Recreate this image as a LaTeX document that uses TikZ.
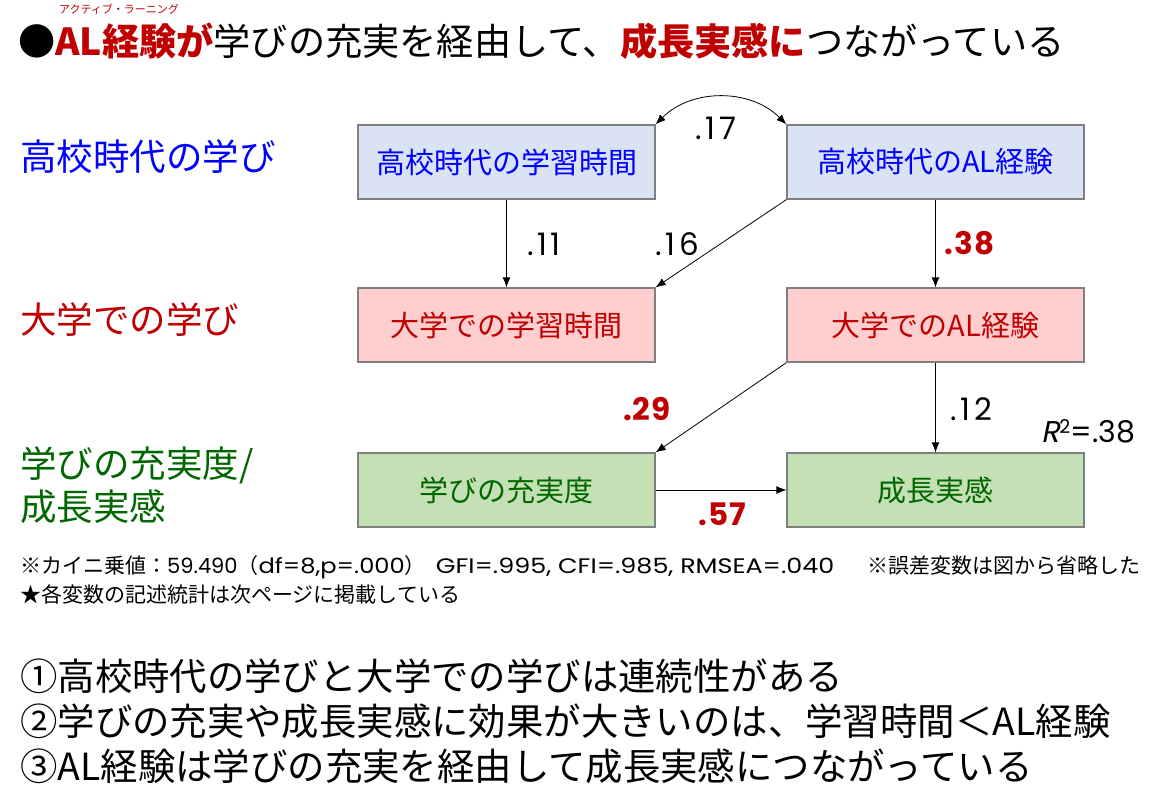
\documentclass[tikz,border=0pt]{standalone}
\usepackage{fontspec}
\usepackage{graphicx}
\usetikzlibrary{arrows.meta}
\newfontfamily\jp{Noto Sans CJK JP}
\newfontfamily\num[LetterSpace=12]{Poppins}
\newfontfamily\numb[LetterSpace=4]{Poppins}
\newfontfamily\lat{Poppins}
\newfontfamily\numsl[FakeSlant=0.2]{Poppins}
\definecolor{myred}{HTML}{C00000}
\definecolor{myblue}{HTML}{0000FF}
\definecolor{mygreen}{HTML}{006600}
\definecolor{fillblue}{HTML}{DAE3F3}
\definecolor{fillpink}{HTML}{FFCFCF}
\definecolor{fillgreen}{HTML}{C5E0B4}
\definecolor{boxline}{HTML}{7F7F7F}
\begin{document}
\begin{tikzpicture}[x=1pt,y=1pt,
  box/.style={draw=boxline, line width=1.3pt, minimum width=297pt, minimum height=74pt, inner sep=0pt,
    font=\jp\fontsize{29}{34}\selectfont},
  hsbox/.style={box, fill=fillblue, text=myblue},
  unibox/.style={box, fill=fillpink, text=myred},
  outbox/.style={box, fill=fillgreen, text=mygreen},
  path/.style={line width=0.8pt, -{Latex[length=10pt,width=8pt]}},
  coef/.style={font=\num\fontsize{31}{34}\selectfont, text=black, inner sep=0pt},
  sigcoef/.style={font=\numb\bfseries\fontsize{31}{34}\selectfont, text=myred, inner sep=0pt},
  rowlabel/.style={font=\jp\fontsize{36.5}{43}\selectfont, anchor=west, inner sep=0pt, align=left},
  bigline/.style={font=\jp\fontsize{37.4}{40}\selectfont, anchor=west, inner sep=0pt},
  note/.style={font=\jp\fontsize{21}{24}\selectfont, anchor=west, inner sep=0pt}]
\useasboundingbox (0,0) rectangle (1168,-800);

% title
\node[anchor=north west, inner sep=0pt, font=\jp\fontsize{11}{12}\selectfont, text=myred] (ruby) at (59,-4) {アクティブ・ラーニング};
\node[anchor=west, inner sep=0pt, font=\jp\fontsize{37.2}{40}\selectfont] (title) at (18,-41)
  {●\textcolor{myred}{\bfseries AL経験が}学びの充実を経由して、\textcolor{myred}{\bfseries 成長実感に}つながっている};

% row labels
\node[rowlabel, text=myblue] (lhs) at (20,-157) {高校時代の学び};
\node[rowlabel, text=myred] (luni) at (20,-320) {大学での学び};
\node[rowlabel, text=mygreen, anchor=north west] (lout) at (20,-446) {学びの充実度/\\成長実感};

% boxes
\node[hsbox] (A) at (506.5,-162) {高校時代の学習時間};
\node[hsbox] (B) at (935.5,-162) {高校時代のAL経験};
\node[unibox] (C) at (506.5,-325) {大学での学習時間};
\node[unibox] (D) at (935.5,-325) {大学でのAL経験};
\node[outbox] (E) at (506.5,-490) {学びの充実度};
\node[outbox] (F) at (935.5,-490) {成長実感};

% paths
\draw[line width=0.8pt, {Latex[length=10pt,width=8pt]}-{Latex[length=10pt,width=8pt]}]
  (A.north east) to[bend left=45] (B.north west);
\draw[path] (A.south) -- (C.north);
\draw[path] (B.south west) -- (C.north east);
\draw[path] (B.south) -- (D.north);
\draw[path] (D.south west) -- (E.north east);
\draw[path] (D.south) -- (F.north);
\draw[path] (E.east) -- (F.west);

% coefficients
\node[coef] (c17) at (716,-128) {.17};
\node[coef] (c11) at (544,-244) {.11};
\node[coef] (c16) at (677,-244) {.16};
\node[sigcoef] (c38) at (970,-243) {.38};
\node[sigcoef] (c29) at (647,-409) {.29};
\node[coef] (c12) at (971,-409) {.12};
\node[sigcoef] (c57) at (722,-514) {.57};
\node[inner sep=0pt, anchor=west, font=\lat\fontsize{30}{32}\selectfont] (r2) at (1041,-431)
  {{\numsl R}\raisebox{0.3em}{\fontsize{19}{20}\selectfont 2}=.38};

% notes
\node[note] (n1) at (20,-567) {※カイニ乗値：{\lat 59.490}（{\lat\scalebox{1.15}[1]{df=8,p=.000}}）\hspace{10pt}{\lat\scalebox{1.21}[1]{GFI=.995, CFI=.985, RMSEA=.040}}\hspace{33pt}※誤差変数は図から省略した};
\node[note] (n2) at (20,-594) {★各変数の記述統計は次ページに掲載している};

% conclusions
\node[bigline] (s1) at (20,-676) {①高校時代の学びと大学での学びは連続性がある};
\node[bigline] (s2) at (20,-721) {②学びの充実や成長実感に効果が大きいのは、学習時間＜AL経験};
\node[bigline] (s3) at (20,-766) {③AL経験は学びの充実を経由して成長実感につながっている};
\end{tikzpicture}
\end{document}
